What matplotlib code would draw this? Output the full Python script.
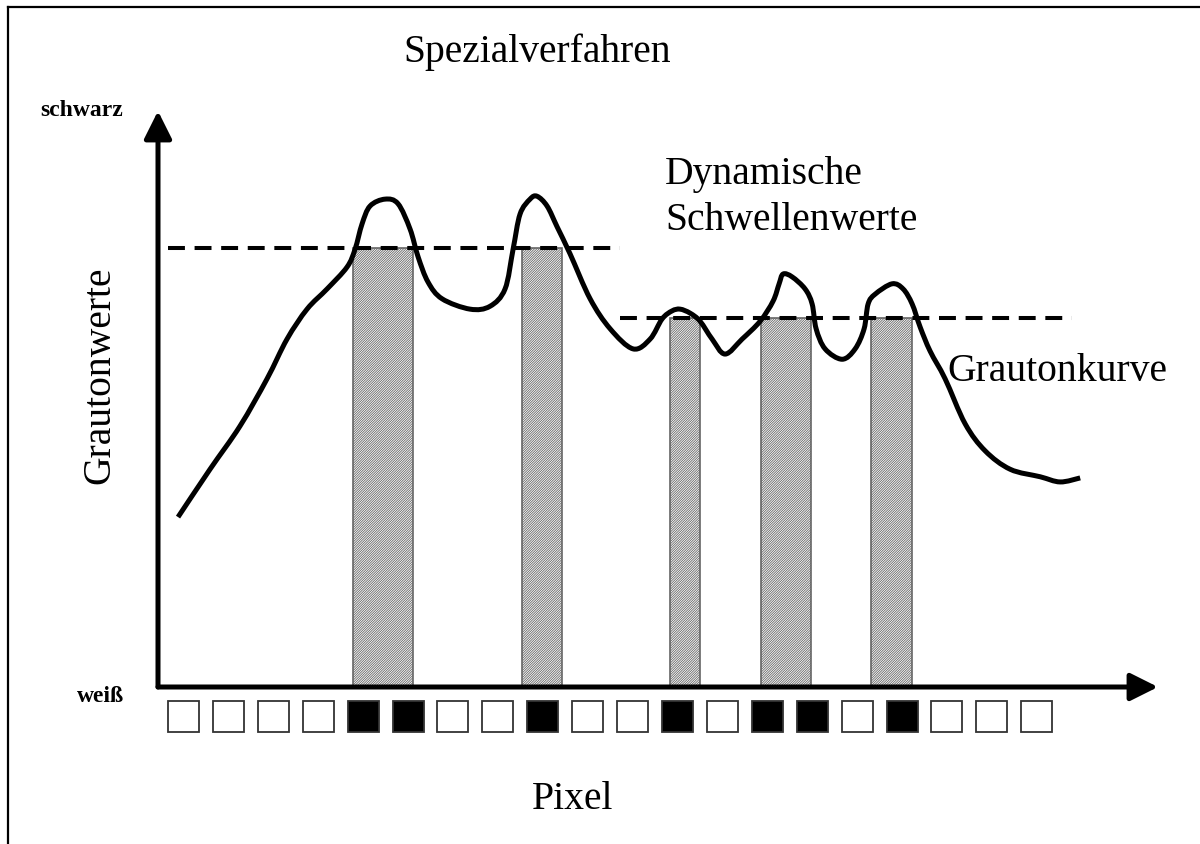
import matplotlib.pyplot as plt
import matplotlib.lines as mlines
from matplotlib.patches import Rectangle, PathPatch
from matplotlib.path import Path
import numpy as np

plt.rcParams['font.family'] = ['Liberation Serif', 'DejaVu Serif']
plt.rcParams['hatch.linewidth'] = 0.6

# Grautonkurve (x in pixel units, y grey value 0 = weiss .. 100 = schwarz)
curve_x = [0.378, 1.090, 1.758, 2.360, 2.805, 3.251, 3.696, 4.141, 4.320, 4.476,
           4.654, 4.988, 5.277, 5.545, 5.723, 5.945, 6.257, 6.881, 7.326, 7.660,
           7.839, 7.994, 8.217, 8.373, 8.596, 8.819, 9.108, 9.554, 9.999, 10.511,
           10.890, 11.157, 11.380, 11.558, 11.781, 12.003, 12.271, 12.560, 12.939, 13.340,
           13.629, 13.763, 13.852, 14.053, 14.342, 14.498, 14.587, 14.787, 15.166, 15.456,
           15.656, 15.745, 15.901, 16.279, 16.525, 16.725, 16.903, 17.126, 17.460, 17.905,
           18.351, 18.908, 19.576, 20.021, 20.467]
curve_y = [29.5, 37.8, 45.3, 53.5, 60.4, 65.6, 69.1, 72.9, 76.0, 80.4,
           83.5, 84.7, 83.9, 79.5, 74.7, 70.3, 67.4, 65.6, 66.1, 69.1,
           76.0, 82.1, 84.7, 85.2, 83.5, 79.9, 75.2, 67.4, 62.2, 58.7,
           60.4, 63.9, 65.3, 65.6, 64.9, 63.5, 60.4, 57.8, 60.4, 63.5,
           67.0, 70.0, 71.7, 71.2, 69.1, 66.5, 62.2, 58.7, 56.9, 58.7,
           62.2, 66.5, 68.2, 70.0, 69.1, 66.5, 62.5, 58.3, 53.5, 45.7,
           41.0, 37.8, 36.5, 35.6, 36.3]

# dynamische Schwellenwerte: (start, end, value)
thr_start = [0.153, 10.22]
thr_end = [10.22, 20.29]
thr_value = [76.2, 64.1]

# Bereiche oberhalb der Schwelle
bar_left = [4.275, 8.039, 11.335, 13.363, 15.813]
bar_right = [5.611, 8.930, 12.003, 14.477, 16.726]
bar_height = [76.2, 76.2, 64.1, 64.1, 64.1]

# Binaerbild: 1 = schwarz, 0 = weiss
pixels = [0, 0, 0, 0, 1, 1, 0, 0, 1, 0, 0, 1, 0, 1, 1, 0, 1, 0, 0, 0]


def smooth_path(xs, ys):
    # Bezier path through the points (Catmull-Rom tangents)
    pts = np.column_stack([xs, ys])
    verts = [pts[0]]
    codes = [Path.MOVETO]
    n = len(pts)
    for i in range(n - 1):
        p0 = pts[max(i - 1, 0)]
        p1 = pts[i]
        p2 = pts[i + 1]
        p3 = pts[min(i + 2, n - 1)]
        verts += [p1 + (p2 - p0) / 6, p2 - (p3 - p1) / 6, p2]
        codes += [Path.CURVE4] * 3
    return Path(verts, codes)


W, H = 1200, 845
fig = plt.figure(figsize=(12, 8.45), dpi=100)
ax = fig.add_axes([158 / W, (H - 688) / H, 1000 / W, 576 / H])
ax.set_xlim(-0.068, 22.2)
ax.set_ylim(0, 100)
ax.axis('off')

# bars
widths = np.array(bar_right) - np.array(bar_left)
ax.bar(bar_left, bar_height, width=widths, align='edge', facecolor='white',
       edgecolor='#666666', hatch='/' * 14, linewidth=1.2, zorder=2)

# threshold lines
for s, e, v in zip(thr_start, thr_end, thr_value):
    ax.plot([s, e], [v, v], color='black', lw=2.9, dashes=(4.2, 2.4), zorder=3)

# curve
ax.add_patch(PathPatch(smooth_path(curve_x, curve_y), facecolor='none',
                       edgecolor='black', lw=3.6, joinstyle='round', zorder=4))

# axes arrows
arrow = dict(arrowstyle='-|>', color='black', lw=3.6, mutation_scale=42,
             shrinkA=0, shrinkB=0)
ax.annotate('', xy=(0, 1), xytext=(0, 0), xycoords='axes fraction', arrowprops=arrow,
            annotation_clip=False)
ax.annotate('', xy=(1, 0), xytext=(0, 0), xycoords='axes fraction', arrowprops=arrow,
            annotation_clip=False)

# pixel squares
sq_w, sq_h = 0.69, 5.38
for i, p in enumerate(pixels):
    ax.add_patch(Rectangle((i + 0.5 - sq_w / 2, -7.8), sq_w, sq_h,
                           facecolor='black' if p else 'white',
                           edgecolor='#333333', lw=1.3, clip_on=False))

# texts
fig.text(537 / W, 1 - 52 / H, 'Spezialverfahren', fontsize=28.5, ha='center', va='center')
fig.text(665 / W, 1 - 175 / H, 'Dynamische', fontsize=28.5, ha='left', va='center')
fig.text(665 / W, 1 - 220 / H, 'Schwellenwerte', fontsize=28.5, ha='left', va='center')
fig.text(947 / W, 1 - 372 / H, 'Grautonkurve', fontsize=28.5, ha='left', va='center')
fig.text(573 / W, 1 - 800 / H, 'Pixel', fontsize=28.5, ha='center', va='center')
fig.text(100 / W, 1 - 375 / H, 'Grautonwerte', fontsize=28.5, rotation=90,
         ha='center', va='center')
fig.text(40 / W, 1 - 111 / H, 'schwarz', fontsize=17, fontweight='bold',
         ha='left', va='center')
fig.text(77 / W, 1 - 697 / H, 'weiß', fontsize=17, fontweight='bold',
         ha='left', va='center')

# frame (left and top edge)
fig.add_artist(mlines.Line2D([8 / W, 8 / W], [0, 1 - 8 / H], color='black', lw=1.6))
fig.add_artist(mlines.Line2D([8 / W, 1], [1 - 8 / H, 1 - 8 / H], color='black', lw=1.6))

fig.savefig('out.png', dpi=100)
